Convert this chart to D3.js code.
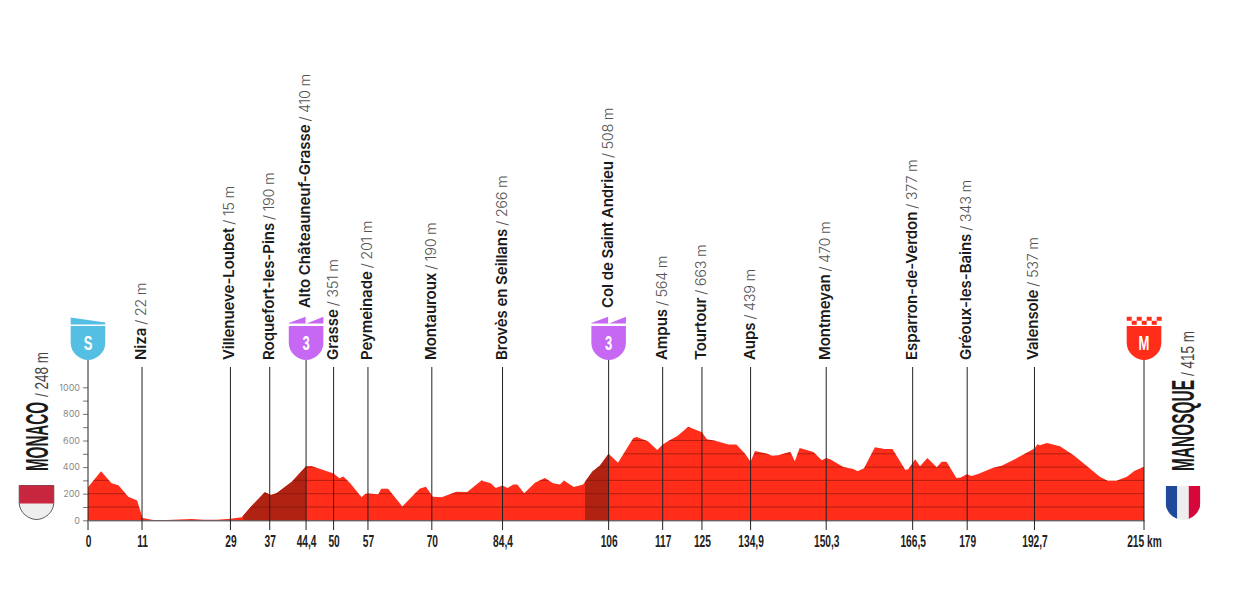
<!DOCTYPE html>
<html><head><meta charset="utf-8">
<script src="https://cdn.jsdelivr.net/npm/d3@7/dist/d3.min.js"></script>
<style>
html,body{margin:0;padding:0;background:#fff}
svg{display:block}
.wp-name{font-family:Inter,"Liberation Sans",sans-serif;font-weight:600;font-size:15px;fill:#1a1a1a;letter-spacing:-.05px}
.wp-val{font-family:Inter,"Liberation Sans",sans-serif;font-weight:300;font-size:14.5px;fill:#555;letter-spacing:-.3px}
.cond{font-family:"Liberation Sans",sans-serif;font-weight:700}
.light{font-family:"Liberation Sans",sans-serif;font-weight:400}
</style></head><body>
<svg id="c" width="1249" height="615"></svg>
<script>
const profileKm=[0,2.65,4.8,6.2,8.2,10,11.1,13.3,16,21.1,23.5,26.2,29,31.3,33.3,36,37.2,38.4,41.5,44.4,45.5,47.9,50,51.2,52,53.3,55.7,56.4,57,59.1,59.7,61.1,64,66.6,67.6,68.8,70.2,72,75,77.2,78.4,80.1,82,83,84.4,85.4,86.6,87.4,88.8,91,93,94.7,96.1,96.9,98.9,100.8,102.7,104.2,106,107.9,111,111.7,114,115.9,117,118.5,120,122.2,122.7,125,126,127.7,130.4,132,133.7,134.9,135.8,138.5,139.2,140.5,143,143.9,144.9,147.7,149.4,150.3,151.1,153.8,155.8,156.7,158,160.2,162.2,163.8,166.4,167,168.4,169.4,170.9,172.8,173.8,174.8,176.8,177.7,178.9,179.9,181.2,184.3,186,188.4,192.7,193.3,193.8,195.2,197.9,200.6,203.3,206,207.6,209.4,211.5,213.1,215];
const profileElev=[248,368,278,263,178,148,18,3,3,10,5,5,12,22,108,210,190,203,290,406,408,378,351,316,330,283,173,198,201,195,238,238,103,203,240,253,178,173,215,213,248,300,278,243,261,243,270,270,203,283,318,278,270,300,250,270,366,411,501,433,616,627,594,529,569,604,634,704,695,662,609,599,569,569,504,441,521,499,486,489,516,444,544,514,451,469,459,401,386,368,391,549,536,536,378,383,459,406,469,398,441,441,318,321,346,333,348,396,411,454,539,571,564,581,556,491,411,328,298,298,328,373,403];
const waypointNames=["Niza","Villenueve-Loubet","Roquefort-les-Pins","Alto Châteauneuf-Grasse","Grasse","Peymeinade","Montauroux","Brovès en Seillans","Col de Saint Andrieu","Ampus","Tourtour","Aups","Montmeyan","Esparron-de-Verdon","Gréoux-les-Bains","Valensole"];
const waypointKm=[11,29,37,44.4,50,57,70,84.4,106,117,125,134.9,150.3,167.9,179,192.7];
const waypointElev=[22,15,190,410,351,201,190,266,508,564,663,439,470,377,343,537];
const climbKm=[44.4,106];
const climbStartKm=[31.6,101.2];
const kmTicks=[0,11,29,37,44.4,50,57,70,84.4,106,117,125,134.9,150.3,167.9,179,192.7,215];
const kmTickLabels=["0","11","29","37","44,4","50","57","70","84,4","106","117","125","134,9","150,3","166,5","179","192,7","215 km"];
const elevTicks=[0,100,200,300,400,500,600,700,800,900,1000];
const startName="MONACO", startElev=248, finishName="MANOSQUE", finishElev=415;

const svg=d3.select("#c");
const x=d3.scaleLinear().domain([0,215]).range([88,1144]);
const y=d3.scaleLinear().domain([0,1000]).range([520.3,387.3]);
const pts=profileKm.map((k,i)=>[k,profileElev[i]]);
const area=d3.area().x(d=>x(d[0])).y0(y(0)).y1(d=>y(d[1]));

const defs=svg.append("defs");
defs.append("clipPath").attr("id","prof").append("path").attr("d",area(pts));
const shieldD="M-17.3,0H17.3V17C17.3,27 8,34 0,34C-8,34 -17.3,27 -17.3,17Z";

svg.append("path").attr("d",area(pts)).attr("fill","#ff2d1a");
const g=svg.append("g").attr("clip-path","url(#prof)");
climbKm.forEach((e,i)=>{
  g.append("rect").attr("x",x(climbStartKm[i])).attr("width",x(e)-x(climbStartKm[i]))
   .attr("y",y(1000)).attr("height",y(0)-y(1000)).attr("fill","#b02212");
});
g.selectAll("line.grid").data(elevTicks.slice(1)).join("line").attr("class","grid")
 .attr("x1",x(0)).attr("x2",x(215)).attr("y1",d=>y(d)).attr("y2",d=>y(d))
 .attr("stroke","#7a140a").attr("stroke-width",.6);

// elevation axis
const ay=svg.append("g").attr("transform",`translate(${x(0)},0)`)
 .call(d3.axisLeft(y).tickValues(elevTicks).tickSize(5).tickPadding(3).tickFormat(d=>d%200===0?d:""));
ay.select(".domain").remove();
ay.selectAll("line").attr("stroke","#555").attr("stroke-width",.8);
ay.selectAll("text").attr("fill","#8a8a8a").style("font-family","Inter,'Liberation Sans',sans-serif").style("font-size","9px").style("font-weight",400);

// km axis
const ax=svg.append("g").attr("transform",`translate(0,${y(0)})`)
 .call(d3.axisBottom(x).tickValues(kmTicks).tickSize(0).tickPadding(15)
   .tickFormat((d,i)=>kmTickLabels[i]));
ax.select(".domain").attr("stroke","#333").attr("stroke-width",1);
ax.selectAll("line").remove();
ax.selectAll("text").attr("class","cond").attr("fill","#222").style("font-size","17px")
  .attr("lengthAdjust","spacingAndGlyphs")
  .each(function(){ this.setAttribute("textLength",this.getComputedTextLength()*0.6); });

// waypoint lines
svg.selectAll("line.wp").data(waypointKm).join("line").attr("class","wp")
 .attr("x1",d=>x(d)).attr("x2",d=>x(d)).attr("y1",367).attr("y2",530)
 .attr("stroke","#222").attr("stroke-width",1);
[0,215].forEach(k=>svg.append("line").attr("x1",x(k)).attr("x2",x(k)).attr("y1",360).attr("y2",530).attr("stroke","#222").attr("stroke-width",1));
climbKm.forEach(k=>svg.append("line").attr("x1",x(k)).attr("x2",x(k)).attr("y1",360).attr("y2",367).attr("stroke","#222").attr("stroke-width",1));

// waypoint labels
waypointNames.forEach((n,i)=>{
  const px=x(waypointKm[i])+4, py=climbKm.includes(waypointKm[i])?308:360;
  const t=svg.append("text").attr("transform",`translate(${px},${py}) rotate(-90)`);
  t.append("tspan").attr("class","wp-name").text(n);
  t.append("tspan").attr("class","wp-val").attr("dx",3).text(`/ ${waypointElev[i]} m`);
});

// shields
function shield(km,color,label){
  const s=svg.append("g").attr("transform",`translate(${x(km)},326)`);
  s.append("path").attr("d",shieldD).attr("fill",color);
  s.append("text").attr("class","cond").attr("text-anchor","middle").attr("y",24.5)
   .attr("fill","#fff").style("font-size","21px").attr("transform","scale(.62,1)").text(label);
  return s;
}
const sS=shield(0,"#55bfe3","S");
sS.append("path").attr("d","M-17.3,-8.5L17.3,-3.5V-1.5H-17.3Z").attr("fill","#55bfe3");
climbKm.forEach(k=>{
  const s=shield(k,"#c768f5","3");
  s.append("path").attr("d","M-17.3,-3L-0.5,-9.3V-2.5H-17.3Z M0.5,-2.5L17.3,-9.3V-2.5Z").attr("fill","#c768f5");
});
const sF=shield(215,"#ff2d1a","M");
const checks=[];
for(let c=0;c<7;c++){for(let r=0;r<2;r++){ if((c+r)%2===0) checks.push([c,r]); }}
sF.selectAll("rect.ch").data(checks).join("rect").attr("class","ch")
 .attr("x",d=>-17.3+d[0]*5).attr("y",d=>-9.2+d[1]*4).attr("width",5).attr("height",4).attr("fill","#ff2d1a");

// start & finish labels
function endLabel(px,name,elev,nameLen,valY){
  svg.append("text").attr("transform",`translate(${px},471) rotate(-90)`).attr("class","cond")
   .attr("fill","#1a1a1a").style("font-size","32px").attr("textLength",nameLen).attr("lengthAdjust","spacingAndGlyphs").text(name);
  svg.append("text").attr("transform",`translate(${px},${valY}) rotate(-90)`).attr("class","light")
   .attr("fill","#444").style("font-size","18px").attr("textLength",45).attr("lengthAdjust","spacingAndGlyphs").text(`/ ${elev} m`);
}
endLabel(48,startName,startElev,69,397);
endLabel(1194,finishName,finishElev,91,376);

// flags
const mon=svg.append("g").attr("transform","translate(36.5,485.5)");
mon.append("path").attr("d",shieldD).attr("fill","#eeeeee").attr("stroke","#333").attr("stroke-width",.8);
mon.append("rect").attr("x",-17.3).attr("y",0).attr("width",34.6).attr("height",18).attr("fill","#c8253f");
defs.append("clipPath").attr("id","fr").append("path").attr("d",shieldD);
const fr=svg.append("g").attr("transform","translate(1183,486)").append("g").attr("clip-path","url(#fr)");
[["#1f4a9c",-17.3],["#eeeeee",-5.8],["#d6083b",5.8]].forEach(([c,xx])=>fr.append("rect").attr("x",xx).attr("y",0).attr("width",11.6).attr("height",34).attr("fill",c));
</script></body></html>
